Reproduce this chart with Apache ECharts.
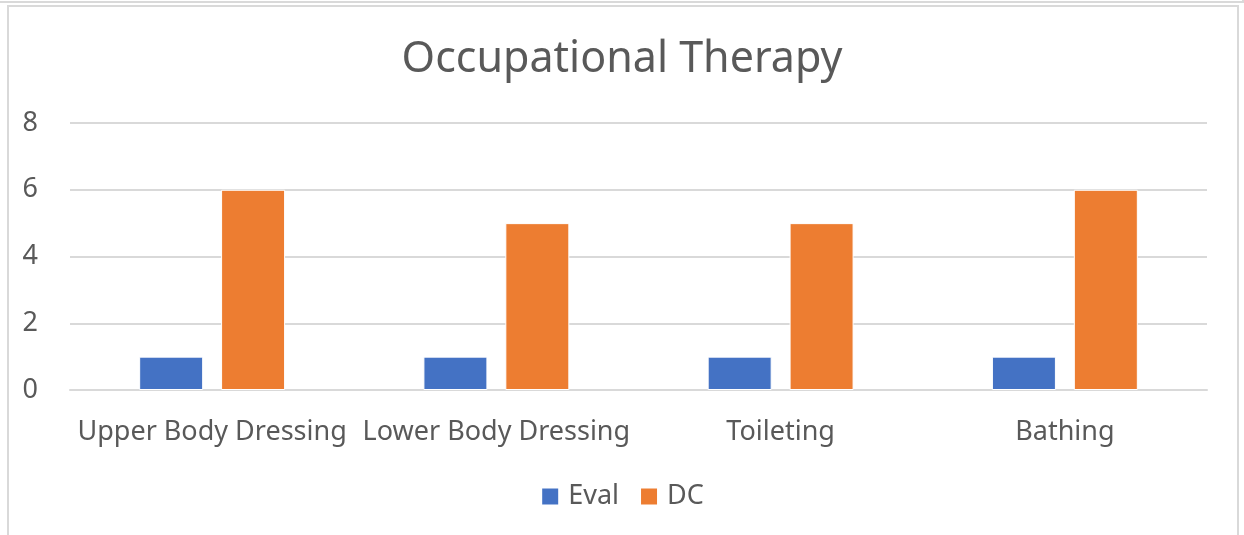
<!DOCTYPE html>
<html>
<head>
<meta charset="utf-8">
<script src="https://cdn.jsdelivr.net/npm/echarts@6/dist/echarts.min.js"></script>
<style>
    html, body { margin: 0; padding: 0; background: #fff; }
    #main { width: 1244px; height: 535px; }
    #frame { position: absolute; left: 7px; top: 5px; width: 1228px; height: 540px;
             border: 2px solid #d9d9d9; pointer-events: none; }
    #topline { position: absolute; left: 0; top: 0; width: 1242px; height: 1px;
               border-bottom: 2px solid #d9d9d9; border-right: 2px solid #d9d9d9; pointer-events: none; }
</style>
</head>
<body>
<div id="main"></div>
<div id="topline"></div>
<div id="frame"></div>
<script>
// categories and values
var categories = ['Upper Body Dressing', 'Lower Body Dressing', 'Toileting', 'Bathing'];
var evalData = [1, 1, 1, 1];
var dcData = [6, 5, 5, 6];
var yTicks = [0, 2, 4, 6, 8];

var chart = echarts.init(document.getElementById('main'));
var textColor = '#595959';
var fontName = '"Noto Sans", "Open Sans", sans-serif';

chart.setOption({
    animation: false,
    title: {
        text: 'Occupational Therapy',
        left: 'center',
        top: 33,
        textStyle: {
            color: textColor,
            fontSize: 43,
            fontWeight: 'normal',
            fontFamily: fontName
        }
    },
    legend: {
        bottom: 20,
        left: 'center',
        itemWidth: 18,
        itemHeight: 18,
        itemGap: 20,
        icon: 'rect',
        textStyle: {
            color: textColor,
            fontSize: 27,
            fontFamily: fontName,
            padding: [0, 0, 0, 4]
        },
        data: ['Eval', 'DC']
    },
    grid: {
        left: 70,
        right: 37,
        top: 123,
        bottom: 145
    },
    xAxis: {
        type: 'category',
        data: categories,
        axisLine: { lineStyle: { color: '#d9d9d9', width: 2 } },
        axisTick: { show: false },
        axisLabel: {
            color: textColor,
            fontSize: 27,
            fontFamily: fontName,
            margin: 29,
            interval: 0
        }
    },
    yAxis: {
        type: 'value',
        min: yTicks[0],
        max: yTicks[yTicks.length - 1],
        interval: 2,
        axisLine: { show: false },
        axisTick: { show: false },
        splitLine: { lineStyle: { color: '#d9d9d9', width: 2 } },
        axisLabel: {
            color: textColor,
            fontSize: 27,
            fontFamily: fontName,
            margin: 32
        }
    },
    series: [
        {
            name: 'Eval',
            type: 'bar',
            data: evalData,
            barWidth: 64,
            barGap: '28%',
            itemStyle: { color: '#4472C4', borderColor: '#ffffff', borderWidth: 1 }
        },
        {
            name: 'DC',
            type: 'bar',
            data: dcData,
            barWidth: 64,
            barGap: '28%',
            itemStyle: { color: '#ED7D31', borderColor: '#ffffff', borderWidth: 1 }
        }
    ]
});

window.onresize = function () {
    chart.resize();
};
</script>
</body>
</html>
